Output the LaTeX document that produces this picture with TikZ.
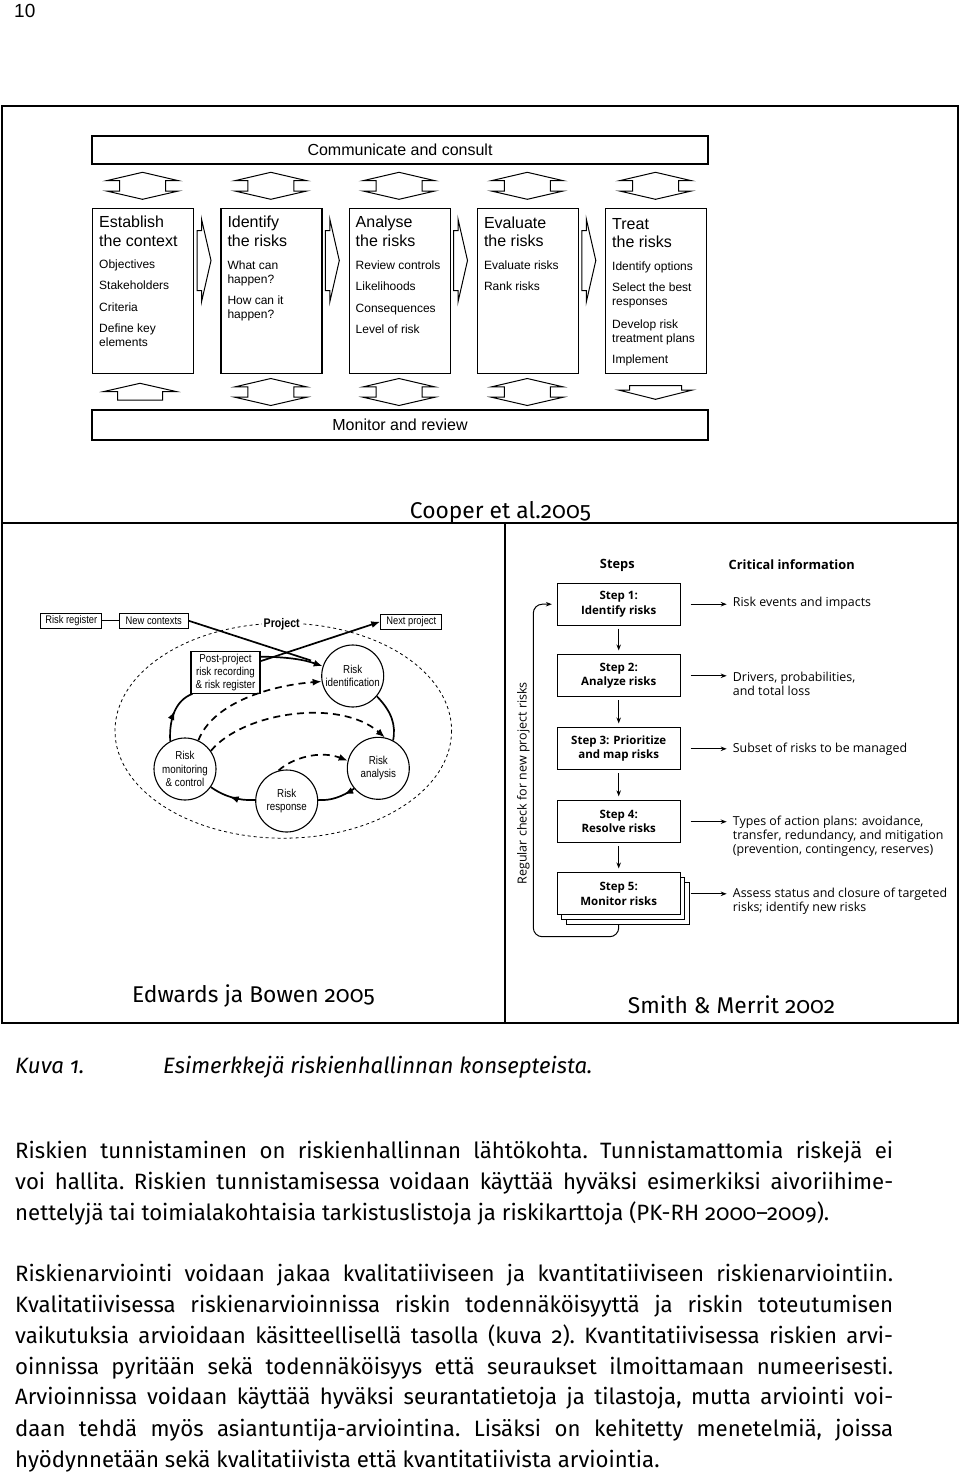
\documentclass[tikz,border=0pt]{standalone}
\usepackage{fontspec}
\setmainfont{Fira Sans}
\newfontfamily\bodyfam{Fira Sans}[Numbers=OldStyle]
\newfontfamily\arialf{Liberation Sans}
\newfontfamily\edf{Liberation Sans}[FakeStretch=0.85]
\newfontfamily\smf{Open Sans}
\usetikzlibrary{arrows.meta,decorations.markings,calc}
\newcommand\ctitf{\arialf\fontsize{16}{18}\selectfont}
\newcommand\citmf{\arialf\fontsize{12}{14}\selectfont}
\newcommand\bodyf{\bodyfam\fontsize{22.2}{31}\selectfont\frenchspacing}
\newcommand\cl[4]{\node[anchor=base west,inner sep=0pt,align=left,font=#3] (#1) at #2 {#4};}
\tikzset{
  frameline/.style={line width=1.3pt},
  cbox/.style={draw, line width=1.2pt, minimum width=101pt, minimum height=165pt, inner sep=0pt, anchor=north west},
  cband/.style={draw, line width=1.2pt, minimum width=616pt, inner sep=0pt, font=\arialf\fontsize{16}{19}\selectfont},
  dblarr/.pic={\draw[line width=1pt] (0,0) -- (-36,8.4) -- (-23,8.4) -- (-23,18.7) -- (-36,18.7) -- (0,27) -- (36,18.7) -- (23,18.7) -- (23,8.4) -- (36,8.4) -- cycle;},
  rarr/.pic={\draw[line width=1pt] (0,11.5) -- (4.5,11.5) -- (4.5,0) -- (14,41.5) -- (4.5,83) -- (4.5,71.6) -- (0,71.6) -- cycle;},
  edbox/.style={draw, line width=1.1pt, inner sep=0pt, minimum height=15pt, font=\edf\fontsize{11}{13}\selectfont},
  edcirc/.style={draw, circle, line width=1.1pt, minimum size=62pt, inner sep=0pt, align=center, font=\edf\fontsize{11.5}{13.3}\selectfont},
  edline/.style={line width=1.7pt},
  eddash/.style={line width=1.7pt, dash pattern=on 7pt off 5pt},
  edtip/.style={-{Latex[length=9pt,width=7pt]}},
  midarrow/.style={postaction={decorate}, decoration={markings, mark=at position #1 with {\arrow{Latex[length=9pt,width=7pt]}}}},
  sbox/.style={draw, line width=1pt, fill=white, minimum width=122.7pt, minimum height=41.7pt, inner sep=0pt, align=center, font=\smf\bfseries\fontsize{11.5}{14.3}\selectfont},
  sarrow/.style={line width=1pt, -{Stealth[length=6pt,width=4.5pt]}},
  info/.style={anchor=base west, inner sep=0pt, align=left, font=\smf\fontsize{12.4}{14.3}\selectfont},
  captxt/.style={inner sep=0pt, anchor=base, font=\bodyfam\fontsize{22.8}{26}\selectfont},
  body/.style={anchor=base west, inner sep=0pt, font=\bodyf}
}
\begin{document}
\begin{tikzpicture}[x=1pt,y=-1pt]
\useasboundingbox (0,0) rectangle (960,1475);
% page number
\node[anchor=base west, inner sep=0pt, font=\arialf\fontsize{19}{22}\selectfont] (pgno) at (14,17) {10};
% frame
\draw[frameline] (2,106) rectangle (958,1023);
\draw[frameline] (2,523) -- (958,523);
\draw[frameline] (505,523) -- (505,1023);

% ---------------- Cooper et al. ----------------
\node[cband, minimum height=28pt] (comm) at (400,150) {Communicate and consult};
\node[cband, minimum height=30pt] (mon) at (400,425) {Monitor and review};
\node[cbox] (b1) at (92,208) {};
\node[cbox] (b2) at (220.3,208) {};
\node[cbox] (b3) at (348.5,208) {};
\node[cbox] (b4) at (476.8,208) {};
\node[cbox] (b5) at (605,208) {};
\foreach \cx in {142.5,270.8,399,527.3,655.5} { \pic at (\cx,172.3) {dblarr}; }
\foreach \cx in {270.8,399,527.3} { \pic at (\cx,378.5) {dblarr}; }
\foreach \ax in {197,325.3,453.5,581.8} { \pic at (\ax,219) {rarr}; }
\draw[line width=1pt] (140,383.3) -- (176.5,391.6) -- (162.5,391.6) -- (162.5,400) -- (117.5,400) -- (117.5,391.6) -- (103.5,391.6) -- cycle;
\draw[line width=1pt] (629.5,385.7) -- (681.5,385.7) -- (681.5,390) -- (692.5,390) -- (655.5,399.3) -- (618.5,390) -- (629.5,390) -- cycle;
% box 1
\cl{t1a}{(99,227.7)}{\ctitf}{Establish}
\cl{t1b}{(99,246.2)}{\ctitf}{the context}
\cl{t1c}{(99,268.8)}{\citmf}{Objectives}
\cl{t1d}{(99,289.7)}{\citmf}{Stakeholders}
\cl{t1e}{(99,311.3)}{\citmf}{Criteria}
\cl{t1f}{(99,346.8)}{\citmf}{Define key\\elements}
% box 2
\cl{t2a}{(227.3,227.7)}{\ctitf}{Identify}
\cl{t2b}{(227.3,246.2)}{\ctitf}{the risks}
\cl{t2c}{(227.3,283.8)}{\citmf}{What can\\happen?}
\cl{t2d}{(227.3,318.5)}{\citmf}{How can it\\happen?}
% box 3
\cl{t3a}{(355.5,227.7)}{\ctitf}{Analyse}
\cl{t3b}{(355.5,246.2)}{\ctitf}{the risks}
\cl{t3c}{(355.5,269)}{\citmf}{Review controls}
\cl{t3d}{(355.5,290.3)}{\citmf}{Likelihoods}
\cl{t3e}{(355.5,312)}{\citmf}{Consequences}
\cl{t3f}{(355.5,333)}{\citmf}{Level of risk}
% box 4
\cl{t4a}{(483.8,228.5)}{\ctitf}{Evaluate}
\cl{t4b}{(483.8,246.7)}{\ctitf}{the risks}
\cl{t4c}{(483.8,269.8)}{\citmf}{Evaluate risks}
\cl{t4d}{(483.8,290.7)}{\citmf}{Rank risks}
% box 5
\cl{t5a}{(612,229.7)}{\ctitf}{Treat}
\cl{t5b}{(612,247.9)}{\ctitf}{the risks}
\cl{t5c}{(612,270.4)}{\citmf}{Identify options}
\cl{t5d}{(612,305.3)}{\citmf}{Select the best\\responses}
\cl{t5e}{(612,342.5)}{\citmf}{Develop risk\\treatment plans}
\cl{t5f}{(612,363.7)}{\citmf}{Implement}
\node[captxt] (capc) at (500.5,518) {Cooper et al.2005};

% ---------------- Edwards & Bowen ----------------
\draw[line width=0.8pt, dash pattern=on 3pt off 3pt] (283.3,730.7) ellipse [x radius=168.3, y radius=107.5];
\node[fill=white, inner sep=2pt, font=\edf\bfseries\fontsize{12.5}{14}\selectfont] (proj) at (281.7,624.5) {Project};
\node[edbox, minimum width=61pt] (rreg) at (71.3,620.8) {Risk register};
\node[edbox, minimum width=69pt] (nc) at (153.8,620.8) {New contexts};
\node[edbox, minimum width=61pt] (np) at (411.3,621.7) {Next project};
\node[edbox, minimum width=69pt, minimum height=41.6pt, align=center, font=\edf\fontsize{11.5}{13}\selectfont] (pp) at (225.5,672.5) {Post-project\\risk recording\\\& risk register};
\node[edcirc] (ri) at (352.7,676) {Risk\\identification};
\node[edcirc] (ra) at (378.3,768.3) {Risk\\analysis};
\node[edcirc] (rs) at (286.7,801) {Risk\\response};
\node[edcirc] (rm) at (185,769) {Risk\\monitoring\\\& control};
\coordinate (ncj) at (311,660.5);
\draw[line width=1.1pt] (rreg.east) -- (nc.west);
\draw[edline] (nc.east) -- (ncj);
\draw[edline, edtip] ([yshift=-5.5pt]pp.north east) .. controls (290,657) and (305,660) .. (ri.162);
\draw[edline, edtip] ([yshift=-10pt]pp.north east) -- (np.west);
\draw[edline] (ri.-40) .. controls (392,712) and (396,725) .. (ra.62);
\draw[edline, midarrow=0.3] (ra.-140) .. controls (342,797) and (330,801) .. (rs.2);
\draw[edline, midarrow=0.55] (rs.178) .. controls (240,801) and (225,797) .. (rm.-35);
\draw[edline, midarrow=0.55] (rm.118) .. controls (169,718) and (176,700) .. ([xshift=2pt]pp.south west);
\draw[eddash, edtip] (rm.65) .. controls (212,705) and (265,686) .. (ri.190);
\draw[eddash, edtip] (rm.35) .. controls (243,712) and (340,698) .. (ra.78);
\draw[eddash, edtip] (rs.105) .. controls (292,758) and (320,750) .. (ra.166);
\node[captxt] (cape) at (253.5,1002.5) {Edwards ja Bowen 2005};

% ---------------- Smith & Merrit ----------------
\node[inner sep=0pt, font=\smf\bfseries\fontsize{12.8}{14}\selectfont] (hsteps) at (617.3,565) {Steps};
\node[inner sep=0pt, font=\smf\bfseries\fontsize{12.8}{14}\selectfont] (hcrit) at (791.7,565) {Critical information};
\node[sbox] (s1) at (618.7,604.2) {Step 1:\\Identify risks};
\node[sbox] (s2) at (618.7,675.8) {Step 2:\\Analyze risks};
\node[sbox] (s3) at (618.7,748.8) {Step 3: Prioritize\\and map risks};
\node[sbox] (s4) at (618.7,821.7) {Step 4:\\Resolve risks};
\node[sbox] (s5c) at (627.7,903.8) {};
\node[sbox] (s5b) at (623.2,898.8) {};
\node[sbox] (s5) at (618.7,893.8) {Step 5:\\Monitor risks};
\draw[sarrow, shorten <=3pt, shorten >=4pt] (s1.south) -- (s2.north);
\draw[sarrow, shorten <=3pt, shorten >=4pt] (s2.south) -- (s3.north);
\draw[sarrow, shorten <=3pt, shorten >=4pt] (s3.south) -- (s4.north);
\draw[sarrow, shorten <=3pt, shorten >=4pt] (s4.south) -- (s5.north);
\node[info] (i1) at (732.7,606) {Risk events and impacts};
\node[info] (i2) at (732.7,695.3) {Drivers, probabilities,\\and total loss};
\node[info] (i3) at (732.7,752.6) {Subset of risks to be managed};
\node[info] (i4) at (732.7,853.9) {Types of action plans: avoidance,\\transfer, redundancy, and mitigation\\(prevention, contingency, reserves)};
\node[info] (i5) at (732.7,911.3) {Assess status and closure of targeted\\risks; identify new risks};
\draw[sarrow, shorten <=10pt, shorten >=6pt] (s1.east) -- (s1.east -| i1.west);
\draw[sarrow, shorten <=10pt, shorten >=6pt] (s2.east) -- (s2.east -| i2.west);
\draw[sarrow, shorten <=10pt, shorten >=6pt] (s3.east) -- (s3.east -| i3.west);
\draw[sarrow, shorten <=10pt, shorten >=6pt] (s4.east) -- (s4.east -| i4.west);
\draw[sarrow, shorten <=10pt, shorten >=6pt] (s5.east) -- (s5.east -| i5.west);
\coordinate (lb) at (533.3,936.7);
\draw[sarrow, rounded corners=9pt, shorten >=5pt] (s5c.south -| s5.south) -- (s5.south |- lb) -- (lb) -- (lb |- s1.west) -- (s1.west);
\node[rotate=90, inner sep=0pt, font=\smf\fontsize{12.5}{13}\selectfont] (reg) at (523.3,783.3) {Regular check for new project risks};
\node[captxt] (caps) at (731.5,1013.5) {Smith \& Merrit 2002};

% ---------------- caption and body ----------------
\node[body, font=\bodyf\itshape] (kuva) at (15,1073) {Kuva 1.};
\node[body, font=\bodyf\itshape] (kuvat) at (163,1073) {Esimerkkejä riskienhallinnan konsepteista.};
\node[body] (p1a) at (15,1158) {\makebox[878pt][s]{Riskien tunnistaminen on riskienhallinnan lähtökohta. Tunnistamattomia riskejä ei}};
\node[body] (p1b) at (15,1189) {\makebox[878pt][s]{voi hallita. Riskien tunnistamisessa voidaan käyttää hyväksi esimerkiksi aivoriihime-}};
\node[body] (p1c) at (15,1220) {nettelyjä tai toimialakohtaisia tarkistuslistoja ja riskikarttoja (PK-RH 2000–2009).};
\node[body] (p2a) at (15,1281) {\makebox[878pt][s]{Riskienarviointi voidaan jakaa kvalitatiiviseen ja kvantitatiiviseen riskienarviointiin.}};
\node[body] (p2b) at (15,1312) {\makebox[878pt][s]{Kvalitatiivisessa riskienarvioinnissa riskin todennäköisyyttä ja riskin toteutumisen}};
\node[body] (p2c) at (15,1343) {\makebox[878pt][s]{vaikutuksia arvioidaan käsitteellisellä tasolla (kuva 2). Kvantitatiivisessa riskien arvi-}};
\node[body] (p2d) at (15,1374) {\makebox[878pt][s]{oinnissa pyritään sekä todennäköisyys että seuraukset ilmoittamaan numeerisesti.}};
\node[body] (p2e) at (15,1404) {\makebox[878pt][s]{Arvioinnissa voidaan käyttää hyväksi seurantatietoja ja tilastoja, mutta arviointi voi-}};
\node[body] (p2f) at (15,1436) {\makebox[878pt][s]{daan tehdä myös asiantuntija-arviointina. Lisäksi on kehitetty menetelmiä, joissa}};
\node[body] (p2g) at (15,1467) {hyödynnetään sekä kvalitatiivista että kvantitatiivista arviointia.};
\end{tikzpicture}
\end{document}
